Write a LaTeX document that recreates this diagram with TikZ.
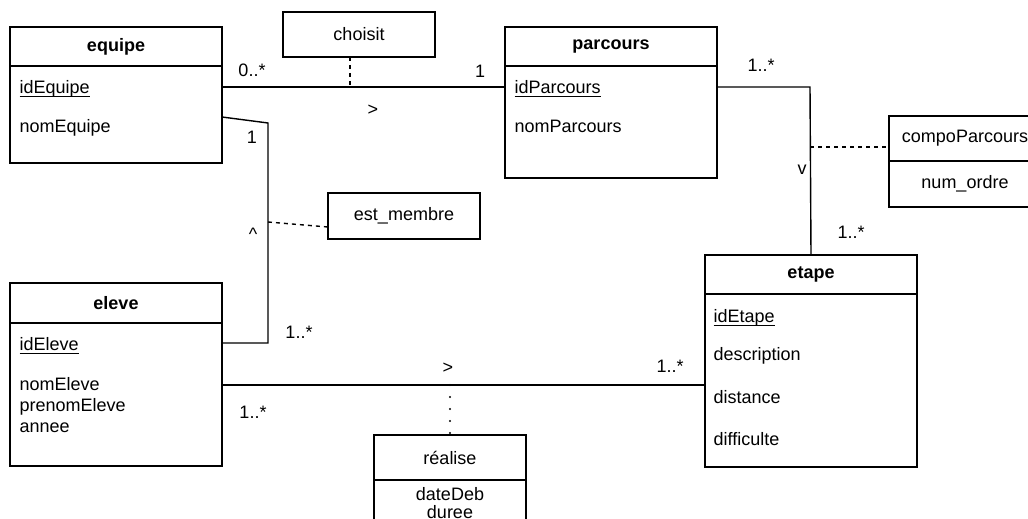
\documentclass[tikz,border=0pt]{standalone}
\usepackage{amsmath}
\usepackage{fontspec}
\setmainfont{Liberation Sans}
\usetikzlibrary{positioning,calc}
\newcommand{\pk}[1]{\underline{\smash[b]{#1}}}

\begin{document}
\begin{tikzpicture}[x=0.5pt,y=-0.5pt,
  font=\fontsize{9}{11}\selectfont,
  line width=0.7pt,
  head/.style={draw,inner sep=0pt,outer sep=0pt,minimum width=106pt,
              minimum height=19.5pt,font=\fontsize{9}{11}\selectfont\bfseries},
  body/.style={draw,inner sep=0pt,outer sep=0pt,minimum width=106pt},
  attr/.style={inner sep=0pt,align=left},
  assoc/.style={draw,inner sep=0pt,outer sep=0pt,minimum width=76pt,
              minimum height=22.5pt},
  mult/.style={inner sep=0pt},
  dashlink/.style={dash pattern=on 2pt off 2pt},
  dotlink/.style={line width=1.2pt,line cap=round,dash pattern=on 0pt off 6pt}]

\clip (0,0) rectangle (1028,519);

% classes
\node[head,anchor=north west] (eqh) at (10,27) {equipe};
\node[body,minimum height=48.5pt,below=0pt of eqh] (eqb) {};
\node[attr,below right=7pt and 4.5pt of eqb.north west] (eqa) {\pk{idEquipe}\\[8.5pt]nomEquipe};

\node[head,anchor=north west] (pah) at (505,27) {parcours};
\node[body,minimum height=56pt,below=0pt of pah] (pab) {};
\node[attr,below right=7pt and 4.5pt of pab.north west] (paa) {\pk{idParcours}\\[8.5pt]nomParcours};

\node[head,anchor=north west,minimum height=20pt] (elh) at (10,283) {eleve};
\node[body,minimum height=71.5pt,below=0pt of elh] (elb) {};
\node[attr,below right=7pt and 4.5pt of elb.north west] (ela) {\pk{idEleve}\\[9pt]nomEleve\\[-0.5pt]prenomEleve\\[-0.5pt]annee};

\node[head,anchor=north west] (eth) at (705,255) {etape};
\node[body,minimum height=86.5pt,below=0pt of eth] (etb) {};
\node[attr,below right=7.5pt and 4pt of etb.north west] (eta) {\pk{idEtape}\\[8pt]description\\[10.5pt]distance\\[10pt]difficulte};

% association classes
\node[assoc] (choisit) at (359,34.5) {choisit};
\node[assoc,minimum height=23pt] (estm) at (404,216) {est\_membre};
\node[assoc,anchor=north west] (cph) at (889,116) {compoParcours};
\node[assoc,minimum height=23pt,below=0pt of cph] (cpb) {num\_ordre};
\node[assoc,anchor=north west] (reh) at (374,435) {réalise};
\node[assoc,minimum height=0pt,inner ysep=3.75pt,align=center,
  font=\fontsize{9}{9}\selectfont,below=0pt of reh] (reb) {dateDeb\\duree};

% links
\coordinate (ch) at (350,87);
\draw (eqb.east |- ch) -- (pab.west |- ch);
\draw[dashlink] (choisit.south -| ch) -- (ch);

\coordinate (em0) at (222,117);
\coordinate (em1) at (268,123);
\coordinate (em2) at (268,343);
\coordinate (em3) at (268,222);
\draw (eqb.east |- em0) -- (em1) -- (em2) -- (elb.east |- em2);
\draw[dashlink] (em3) -- ([yshift=-5.5pt]estm.west);

\coordinate (pe) at (810,87);
\coordinate (pc) at (810,147);
\draw (pab.east |- pe) -- (pe) -- (eth.north);
\draw[dashlink] (pc) -- (cph.west |- pc);

\coordinate (re) at (450,385);
\draw (elb.east |- re) -- (etb.west |- re);
\draw[dotlink] (re) -- (reh.north);

% multiplicities and reading directions
\node[mult] (m1) at (252,70) {0..*};
\node[mult] (m2) at (480,71) {1};
\node[mult] (d1) at (373,110) {>};
\node[mult] (m3) at (252,137.5) {1};
\node[mult] (d2) at (253,234) {\textasciicircum};
\node[mult] (m4) at (299,332) {1..*};
\node[mult] (d3) at (448,368) {>};
\node[mult] (m5) at (253,412) {1..*};
\node[mult] (m6) at (670,366) {1..*};
\node[mult] (m7) at (761,65) {1..*};
\node[mult] (d4) at (802,170) {v};
\node[mult] (m8) at (851,232) {1..*};
\end{tikzpicture}
\end{document}
